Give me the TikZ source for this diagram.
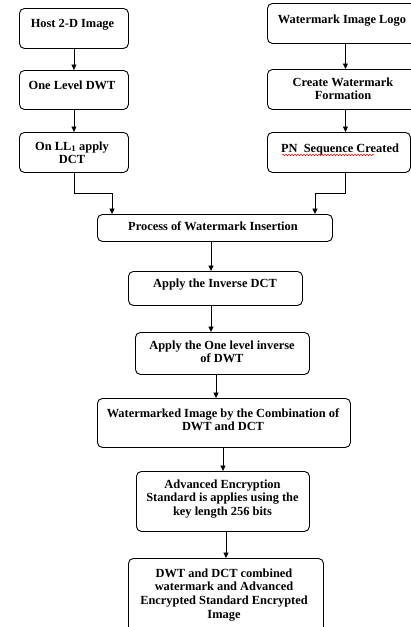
\documentclass[tikz,border=0pt]{standalone}
\usepackage{fontspec}
\setmainfont{Liberation Serif}
\usetikzlibrary{arrows.meta,decorations.pathmorphing}
\newcommand{\mylines}[1]{\begin{tabular}[t]{@{}c@{}}#1\end{tabular}}
\begin{document}
\begin{tikzpicture}[x=1pt,y=-1pt,
  box/.style={draw=black,line width=0.9pt,rounded corners=5pt,inner sep=0pt,anchor=north west},
  lbl/.style={anchor=base,inner sep=0pt,font=\bfseries\fontsize{12.4}{13.8}\selectfont},
  arr/.style={line width=0.9pt,-{Triangle[length=5.5pt,width=5pt]}},
  ln/.style={line width=0.9pt}]
\useasboundingbox (0,0) rectangle (411,627);
\clip (0,0) rectangle (411,627);
% boxes
\node[box,minimum width=109,minimum height=40] (host) at (19,8) {};
\node[box,minimum width=109,minimum height=39] (dwt) at (19,70) {};
\node[box,minimum width=109,minimum height=40] (ll) at (19,132) {};
\node[box,minimum width=156,minimum height=40] (logo) at (267,3) {};
\node[box,minimum width=156,minimum height=40] (form) at (267,69) {};
\node[box,minimum width=143,minimum height=40] (pn) at (267,132) {};
\node[box,minimum width=235,minimum height=27] (proc) at (97,214) {};
\node[box,minimum width=174,minimum height=34] (idct) at (128,271) {};
\node[box,minimum width=174,minimum height=42] (idwt) at (135,332) {};
\node[box,minimum width=253,minimum height=49] (wmi) at (97,398) {};
\node[box,minimum width=173,minimum height=60] (aes) at (136,471) {};
\node[box,minimum width=195,minimum height=76] (fin) at (128,558) {};
% texts
\node[lbl] (thost) at (72.5,27.5) {\mylines{Host 2-D Image}};
\node[lbl] (tdwt) at (72,89) {\mylines{One Level DWT}};
\node[lbl] (tll) at (72,150) {\mylines{On LL\textsubscript{1} apply\\DCT}};
\node[lbl] (tlogo) at (342,23) {\mylines{Watermark Image Logo}};
\node[lbl] (tform) at (343,86) {\mylines{Create Watermark\\Formation}};
\node[lbl] (tpn) at (340,152) {\mylines{PN\ \ Sequence Created}};
\node[lbl] (tproc) at (213,230) {\mylines{Process of Watermark Insertion}};
\node[lbl] (tidct) at (215,287) {\mylines{Apply the Inverse DCT}};
\node[lbl] (tidwt) at (222,349) {\mylines{Apply the One level inverse\\of DWT}};
\node[lbl] (twmi) at (223,417) {\mylines{Watermarked Image by the Combination of\\DWT and DCT}};
\node[lbl] (taes) at (222.5,488) {\mylines{Advanced Encryption\\Standard is applies using the\\key length 256 bits}};
\node[lbl] (tfin) at (224,577) {\mylines{DWT and DCT combined\\watermark and Advanced\\Encrypted Standard Encrypted\\Image}};
% spell-check squiggle
\coordinate (sq1) at (282,155);
\coordinate (sq2) at (374,155);
\draw[red,line width=0.5pt,decorate,decoration={snake,amplitude=0.8pt,segment length=3pt}] (sq1) -- (sq2);
% helper x positions
\coordinate (xr) at (345,0);
\coordinate (xa) at (211,0);
\coordinate (xb) at (216,0);
\coordinate (xc) at (223,0);
\coordinate (xd) at (226,0);
\coordinate (jl) at (112,193);
\coordinate (jr) at (315,193);
% connectors
\draw[arr] (host.south) -- (dwt.north);
\draw[arr] (dwt.south) -- (ll.north);
\draw[arr] (logo.south) -- (form.north);
\draw[arr] (form.south) -- (form.south |- pn.north);
\draw[arr] (ll.south) |- (jl) -- (jl |- proc.north);
\draw[arr] (pn.south -| xr) |- (jr) -- (jr |- proc.north);
\draw[arr] (proc.south -| xa) -- (idct.north -| xa);
\draw[arr] (idct.south -| xa) -- (idwt.north -| xa);
\draw[arr] (idwt.south -| xb) -- (wmi.north -| xb);
\draw[arr] (wmi.south -| xc) -- (aes.north -| xc);
\draw[arr] (aes.south -| xd) -- (fin.north -| xd);
\end{tikzpicture}
\end{document}
